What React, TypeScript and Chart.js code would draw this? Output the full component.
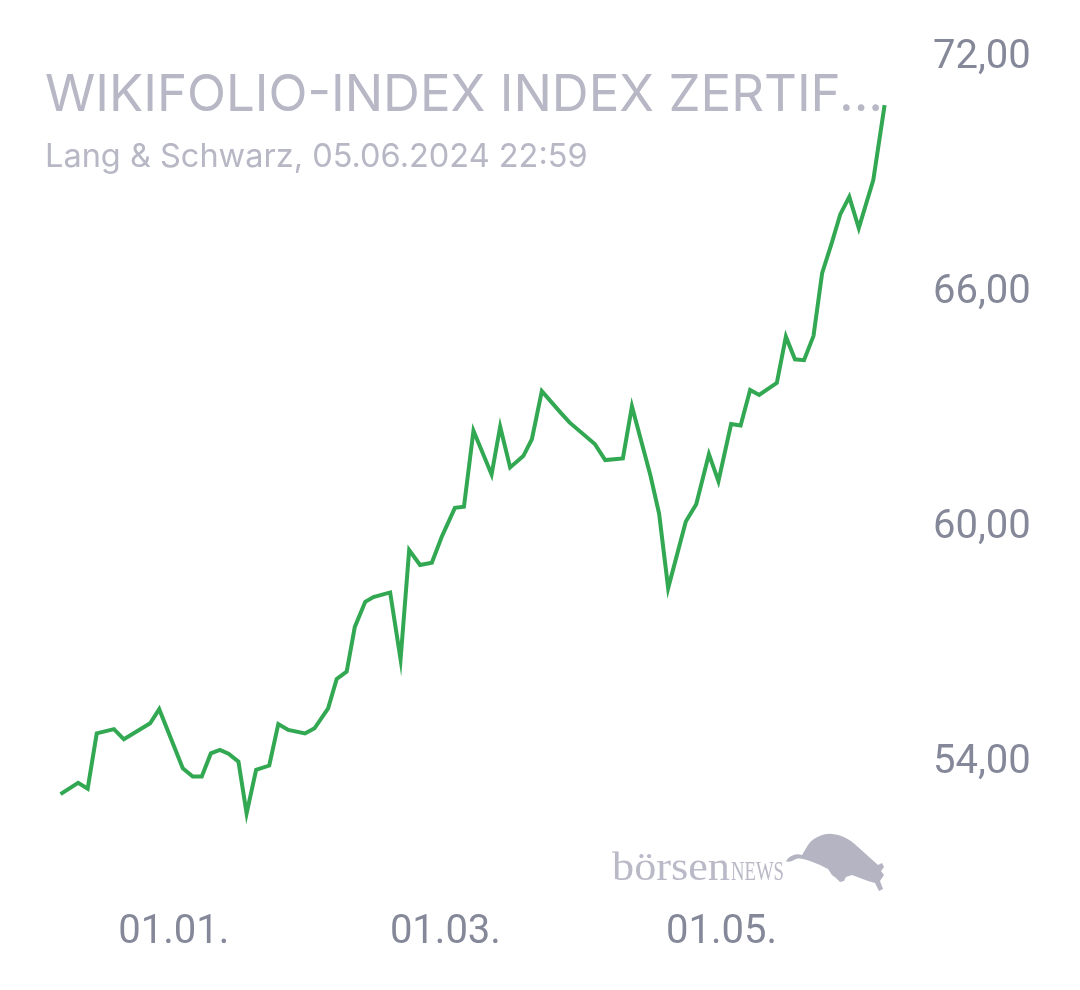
import React, { useEffect, useRef } from "react";
import { Chart, registerables } from "chart.js";

Chart.register(...registerables);

// Days relative to 01.01.2024
const dayOffsets = [
  -25.0, -21.1, -19.0, -17.0, -13.2, -11.0, -5.2, -3.2, 2.0, 4.2, 6.2, 8.2,
  10.2, 12.1, 14.3, 16.1, 18.2, 21.1, 23.1, 25.3, 29.0, 31.1, 34.1, 36.0,
  38.2, 40.0, 42.3, 44.1, 47.8, 50.1, 52.0, 54.4, 57.0, 59.2, 62.1, 64.1,
  66.2, 70.2, 72.1, 74.3, 77.2, 79.1, 81.3, 85.3, 87.4, 93.0, 95.3, 99.2,
  101.2, 105.3, 107.2, 109.2, 113.1, 115.4, 118.2, 120.3, 123.1, 125.2, 127.3, 129.3,
  133.2, 135.2, 137.2, 139.2, 141.3, 143.2, 145.3, 147.2, 149.2, 151.3, 154.5, 157.0,
];

const prices = [
  53.13, 53.42, 53.27, 54.68, 54.79, 54.53, 54.94, 55.30, 53.79, 53.58, 53.58, 54.17,
  54.26, 54.16, 53.96, 52.64, 53.75, 53.86, 54.92, 54.77, 54.68, 54.81, 55.32, 56.07,
  56.26, 57.40, 58.04, 58.16, 58.28, 56.57, 59.36, 58.98, 59.04, 59.70, 60.44, 60.47,
  62.41, 61.29, 62.51, 61.47, 61.76, 62.19, 63.42, 62.89, 62.62, 62.07, 61.66, 61.70,
  63.03, 61.26, 60.29, 58.39, 60.09, 60.53, 61.81, 61.12, 62.58, 62.54, 63.45, 63.32,
  63.63, 64.81, 64.23, 64.21, 64.83, 66.43, 67.19, 67.93, 68.38, 67.58, 68.81, 70.72,
];

const xTickDays = [0, 60, 121];
const xTickLabels = ["01.01.", "01.03.", "01.05."];
const yTickValues = [54, 60, 66, 72];

const titleText = "WIKIFOLIO-INDEX INDEX ZERTIF...";
const subtitleText = "Lang & Schwarz, 05.06.2024 22:59";

const AXIS_COLOR = "#858899";
const TITLE_COLOR = "#b7b7c5";
const LINE_COLOR = "#33a852";

export default function App() {
  const canvasRef = useRef<HTMLCanvasElement | null>(null);

  useEffect(() => {
    const canvas = canvasRef.current;
    if (!canvas) return;
    const zeroPad = (s: any) => {
      s.paddingTop = 0;
      s.paddingBottom = 0;
      s.paddingLeft = 0;
      s.paddingRight = 0;
    };
    const chart = new Chart(canvas, {
      type: "line",
      data: {
        datasets: [
          {
            data: dayOffsets.map((d, i) => ({ x: d, y: prices[i] })),
            borderColor: LINE_COLOR,
            borderWidth: 4,
            pointRadius: 0,
            pointHoverRadius: 0,
            tension: 0,
            fill: false,
          },
        ],
      },
      options: {
        responsive: false,
        animation: false,
        events: [],
        layout: { padding: { left: 40, top: 20, right: 0, bottom: 0 } },
        plugins: {
          legend: { display: false },
          tooltip: { enabled: false },
          title: { display: false },
        },
        scales: {
          x: {
            type: "linear",
            min: -29.53,
            max: 160.4,
            bounds: "data",
            grid: { display: false, drawTicks: false },
            border: { display: false },
            ticks: {
              padding: 29,
              maxRotation: 0,
              autoSkip: false,
              color: AXIS_COLOR,
              font: { family: "Roboto", size: 40 },
              callback: (_v: any, i: number) => xTickLabels[i],
            },
            afterBuildTicks: (s: any) => {
              s.ticks = xTickDays.map((v) => ({ value: v }));
            },
            afterFit: (s: any) => {
              s.height = 110;
              zeroPad(s);
            },
          },
          y: {
            type: "linear",
            position: "right",
            min: 50.938,
            max: 72.894,
            bounds: "data",
            grid: { display: false, drawTicks: false },
            border: { display: false },
            ticks: {
              padding: 33,
              labelOffset: 3,
              autoSkip: false,
              color: AXIS_COLOR,
              font: { family: "Roboto", size: 40 },
              callback: (v: any) => Number(v).toFixed(2).replace(".", ","),
            },
            afterBuildTicks: (s: any) => {
              s.ticks = yTickValues.map((v) => ({ value: v }));
            },
            afterFit: (s: any) => {
              s.width = 180;
              zeroPad(s);
            },
          },
        },
      },
    });
    return () => chart.destroy();
  }, []);

  return (
    <div
      style={{
        position: "fixed",
        left: 0,
        top: 0,
        width: 1080,
        height: 990,
        background: "#ffffff",
        overflow: "hidden",
      }}
    >
      <canvas
        ref={canvasRef}
        width={1080}
        height={990}
        style={{ position: "absolute", left: 0, top: 0, width: 1080, height: 990 }}
      />
      <div
        style={{
          position: "absolute",
          left: 45,
          top: 67,
          fontFamily: "Inter, 'Noto Sans', sans-serif",
          fontSize: 51,
          lineHeight: "51px",
          color: TITLE_COLOR,
          whiteSpace: "nowrap",
        }}
      >
        {titleText}
      </div>
      <div
        style={{
          position: "absolute",
          left: 45,
          top: 139,
          fontFamily: "Inter, 'Noto Sans', sans-serif",
          fontSize: 32.5,
          lineHeight: "33px",
          color: TITLE_COLOR,
          whiteSpace: "nowrap",
        }}
      >
        {subtitleText}
      </div>
      <svg
        width={300}
        height={70}
        viewBox="0 0 300 70"
        style={{ position: "absolute", left: 600, top: 825 }}
      >
        <text
          x={12}
          y={55}
          fontFamily="'Liberation Serif', 'DejaVu Serif', serif"
          fontSize={40}
          fill="#b9b9c7"
          textLength={118}
          lengthAdjust="spacingAndGlyphs"
        >
          börsen
        </text>
        <text
          x={131}
          y={55}
          fontFamily="'Liberation Serif', 'DejaVu Serif', serif"
          fontSize={27}
          fill="#b9b9c7"
          textLength={53}
          lengthAdjust="spacingAndGlyphs"
        >
          NEWS
        </text>
        <path
          transform="translate(180,0)"
          fill="#b4b4c3"
          d="M 6 36 C 10 30 16 28 22 30 L 28 20 C 34 12 44 8 52 9 C 62 10 70 14 78 22 L 98 40 L 102 38 L 104 42 L 101 46 L 104 50 L 100 56 L 103 64 L 99 66 L 95 58 L 88 56 L 72 50 L 66 52 L 64 56 L 60 57 L 56 53 L 52 50 L 48 44 L 40 40 L 30 36 C 24 34 20 33 16 34 C 12 36 9 38 6 36 Z"
        />
      </svg>
    </div>
  );
}
